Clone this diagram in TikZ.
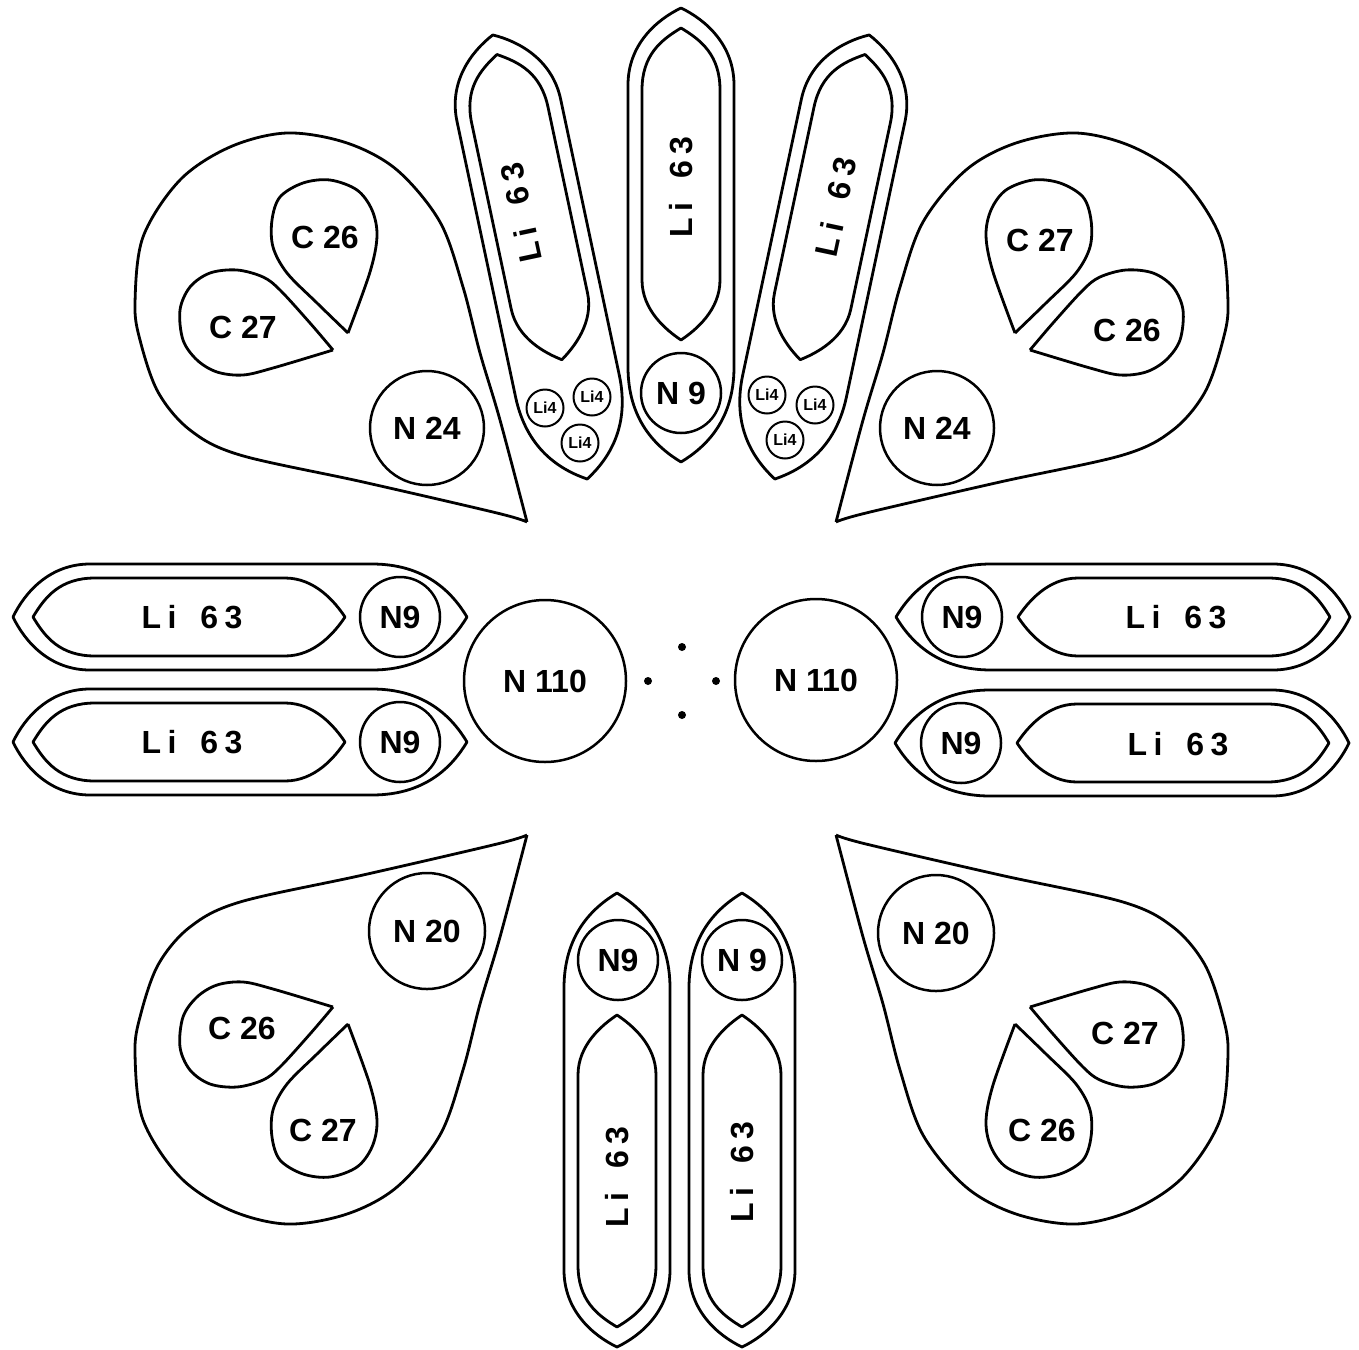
\documentclass[tikz,border=0pt]{standalone}
\usepackage{fontspec}
\setmainfont{Liberation Sans}
\newcommand\bigfont{\fontsize{32}{36}\selectfont\bfseries}
\newcommand\smallfont{\fontsize{16}{18}\selectfont\bfseries}
\newcommand\lisixty{{\addfontfeature{LetterSpace=20}Li\hspace{24pt}63}}
\tikzset{
  ol/.style={line width=2.8pt, line join=round},
  circ/.style={circle, draw, line width=2.5pt, inner sep=0pt, font=\bigfont},
  smallcirc/.style={circle, draw, line width=2pt, inner sep=0pt, minimum size=37pt, font=\smallfont},
  lbl/.style={font=\bigfont, inner sep=0pt},
  dotnode/.style={circle, fill, inner sep=0pt, minimum size=8pt},
}
\newcommand\capsuleshape{%
  \draw[ol] (0,-227) .. controls (25,-215) and (53,-190) .. (53,-150) -- (53,132)
    .. controls (53,185) and (25,212) .. (0,227)
    .. controls (-25,212) and (-53,185) .. (-53,132) -- (-53,-150)
    .. controls (-53,-190) and (-25,-215) .. (0,-227) -- cycle;
  \draw[ol] (0,-207) .. controls (20,-195) and (39,-180) .. (39,-145) -- (39,45)
    .. controls (39,75) and (15,95) .. (0,105)
    .. controls (-15,95) and (-39,75) .. (-39,45) -- (-39,-145)
    .. controls (-39,-180) and (-20,-195) .. (0,-207) -- cycle;
}
\newcommand\teardropshape{%
  \draw[ol] plot[smooth, tension=0.55] coordinates {(527,522) (500,420) (480,353) (463,287) (440,222) (397,170) (347,143) (287,133) (230,147) (180,180) (143,237) (135,303) (140,340) (158,392) (190,430) (240,455) (363,482) (497,513) (527,522)};
  \draw[ol] plot[smooth, tension=0.55] coordinates {(348,333) (317,303) (287,273) (273,247) (272,220) (280,197) (303,183) (330,180) (357,190) (372,210) (377,236) (370,272) (348,333)};
  \draw[ol] plot[smooth, tension=0.55] coordinates {(333,350) (310,323) (280,290) (263,277) (237,270) (210,273) (190,287) (180,310) (183,340) (197,360) (217,372) (243,375) (273,368) (333,350)};
}
\begin{document}
\begin{tikzpicture}[x=1pt, y=-1pt]
\path[use as bounding box, fill=white] (0,0) rectangle (1359,1349);

% teardrops
\begin{scope}\teardropshape\end{scope}
\begin{scope}[shift={(1363,0)}, xscale=-1]\teardropshape\end{scope}
\begin{scope}[shift={(0,1357)}, yscale=-1]\teardropshape\end{scope}
\begin{scope}[shift={(1363,1357)}, xscale=-1, yscale=-1]\teardropshape\end{scope}

% teardrop labels
\node[lbl] (tlc26) at (325,237) {C 26};
\node[lbl] (tlc27) at (243,327) {C 27};
\node[circ, minimum size=114pt] (tln24) at (427,428) {N 24};
\node[lbl] (trc27) at (1040,240) {C 27};
\node[lbl] (trc26) at (1127,330) {C 26};
\node[circ, minimum size=114pt] (trn24) at (937,428) {N 24};
\node[circ, minimum size=116pt] (bln20) at (427,931) {N 20};
\node[lbl] (blc26) at (242,1028) {C 26};
\node[lbl] (blc27) at (323,1130) {C 27};
\node[circ, minimum size=116pt] (brn20) at (936,933) {N 20};
\node[lbl] (brc27) at (1125,1033) {C 27};
\node[lbl] (brc26) at (1042,1130) {C 26};

% capsules
\begin{scope}[shift={(681,235)}]\capsuleshape\end{scope}
\begin{scope}[shift={(540,257)}, rotate=12]\capsuleshape\end{scope}
\begin{scope}[shift={(822,257)}, rotate=-12]\capsuleshape\end{scope}
\begin{scope}[shift={(240,617)}, rotate=90]\capsuleshape\end{scope}
\begin{scope}[shift={(240,742)}, rotate=90]\capsuleshape\end{scope}
\begin{scope}[shift={(1123,617)}, rotate=-90]\capsuleshape\end{scope}
\begin{scope}[shift={(1122,743)}, rotate=-90]\capsuleshape\end{scope}
\begin{scope}[shift={(617,1120)}, rotate=180]\capsuleshape\end{scope}
\begin{scope}[shift={(742,1120)}, rotate=180]\capsuleshape\end{scope}

% capsule contents
\node[lbl, rotate=90] (lim) at (681,187) {\lisixty};
\node[circ, minimum size=80pt] (n9m) at (681,393) {N 9};
\node[lbl, rotate=102] (litl) at (521,213) {\lisixty};
\node[smallcirc] (lia) at (545,408) {Li4};
\node[smallcirc] (lib) at (592,397) {Li4};
\node[smallcirc] (lic) at (580,443) {Li4};
\node[lbl, rotate=78] (litr) at (836,207) {\lisixty};
\node[smallcirc] (lid) at (767,395) {Li4};
\node[smallcirc] (lie) at (815,405) {Li4};
\node[smallcirc] (lif) at (785,440) {Li4};
\node[lbl] (lhl1) at (192,617) {\lisixty};
\node[circ, minimum size=80pt] (n9l1) at (400,617) {N9};
\node[lbl] (lhl2) at (192,742) {\lisixty};
\node[circ, minimum size=80pt] (n9l2) at (400,742) {N9};
\node[lbl] (lhr1) at (1176,617) {\lisixty};
\node[circ, minimum size=80pt] (n9r1) at (962,617) {N9};
\node[lbl] (lhr2) at (1178,744) {\lisixty};
\node[circ, minimum size=80pt] (n9r2) at (961,743) {N9};
\node[lbl, rotate=90] (lbl1) at (617,1177) {\lisixty};
\node[circ, minimum size=80pt] (n9b1) at (618,960) {N9};
\node[lbl, rotate=90] (lbl2) at (742,1172) {\lisixty};
\node[circ, minimum size=80pt] (n9b2) at (742,960) {N 9};

% centre
\node[circ, minimum size=162pt] (n110l) at (545,681) {N 110};
\node[circ, minimum size=162pt] (n110r) at (816,680) {N 110};
\node[dotnode] (d1) at (682,647) {};
\node[dotnode] (d2) at (648,681) {};
\node[dotnode] (d3) at (716,681) {};
\node[dotnode] (d4) at (682,715) {};
\end{tikzpicture}
\end{document}
